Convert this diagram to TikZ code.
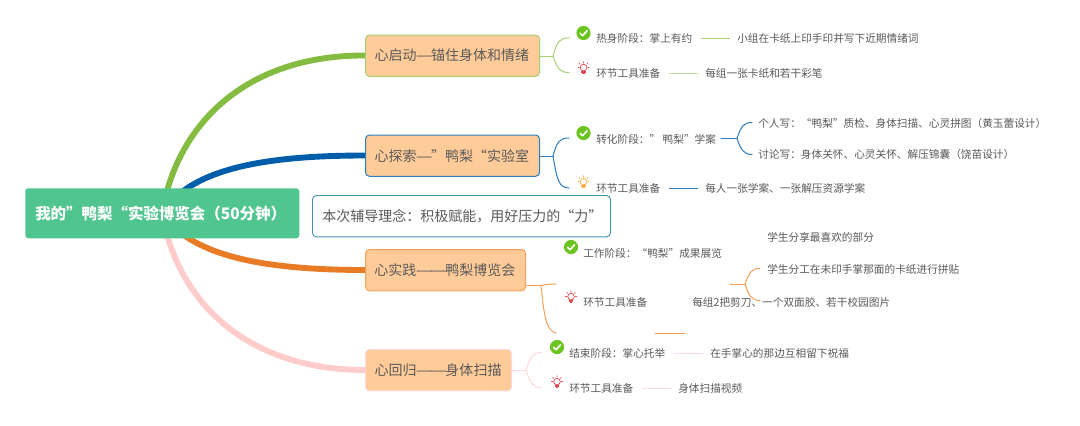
\documentclass[tikz,border=0pt]{standalone}
\usepackage{fontspec}
\setmainfont[Script=CJK]{Noto Sans CJK SC}
\newcommand{\wdash}{\hspace{-0.5pt}\scalebox{1.35}[1]{—}\hspace{-1.3pt}}
\definecolor{cgreen}{HTML}{84BC41}
\definecolor{cgreenl}{HTML}{A3D070}
\definecolor{cblue}{HTML}{005DAA}
\definecolor{cbluel}{HTML}{2F7DBE}
\definecolor{corange}{HTML}{E87B25}
\definecolor{corangel}{HTML}{F6A05A}
\definecolor{cpink}{HTML}{FFCCCC}
\definecolor{cpinkl}{HTML}{FFD9D9}
\definecolor{croot}{HTML}{51C58F}
\definecolor{cbox}{HTML}{FFCC99}
\definecolor{cnote}{HTML}{3F94B0}
\definecolor{ctxt}{HTML}{595959}
\definecolor{cchk}{HTML}{6CC420}
\definecolor{cbulbr}{HTML}{DE4A50}
\definecolor{cbulbo}{HTML}{F9B04A}
\tikzset{
  x=0.75pt,y=-0.75pt,
  rootbox/.style={draw=none,fill=croot,rounded corners=2.2pt,text=white,font=\fontsize{11.6pt}{13pt}\selectfont\bfseries,anchor=north west,minimum width=205.5pt,minimum height=37.5pt,inner sep=0pt,align=left,text width=190.5pt},
  topic/.style={fill=cbox,rounded corners=3pt,line width=0.75pt,text=ctxt,font=\fontsize{10.5pt}{12pt}\selectfont,anchor=north west,minimum height=31pt,inner sep=0pt},
  notebox/.style={draw=cnote,fill=white,rounded corners=3pt,line width=0.7pt,text=ctxt,font=\fontsize{10.5pt}{12pt}\selectfont,anchor=north west,minimum width=223.5pt,minimum height=31pt,inner sep=0pt,text width=216pt,align=left},
  leaf/.style={text=ctxt,font=\fontsize{8pt}{10pt}\selectfont,anchor=west,inner sep=0pt},
  main/.style={line width=4.4pt},
  thin/.style={line width=0.75pt,line cap=round},
  gapline/.style={line width=0.75pt,shorten <=6pt,shorten >=5.25pt},
  pics/checkicon/.style={code={
    \fill[cchk] (0,0) circle (5.3pt);
    \draw[white,line width=1.2pt,line cap=round,line join=round] (-3.4,0.3) -- (-0.9,2.7) -- (3.5,-2.2);
  }},
  pics/bulbicon/.style={code={
    \draw[#1,line width=0.55pt] (0,-1.4) circle (3.3);
    \draw[#1,line width=0.55pt,line cap=round]
      (0,-7.3)--(0,-6) (-5.6,-1.4)--(-4.4,-1.4) (5.6,-1.4)--(4.4,-1.4)
      (-4.2,-5.6)--(-3.3,-4.7) (4.2,-5.6)--(3.3,-4.7);
    \fill[#1] (-2.2,2.2) rectangle (2.2,3.5);
    \fill[#1] (-1.4,4.1) rectangle (1.4,5.2);
  }},
}
\begin{document}
\begin{tikzpicture}
\useasboundingbox[fill=white] (0,0) rectangle (1080,425);
% main branches, behind everything
\coordinate (hub) at (162,213);
\coordinate (p1) at (365,55.5);
\coordinate (p2) at (365,155.5);
\coordinate (p3) at (365,270);
\coordinate (p4) at (365,370);
\draw[main,cgreen] (hub) .. controls (178,120) and (250,55) .. (p1);
\draw[main,cblue] (hub) .. controls (190,170) and (260,155.5) .. (p2);
\draw[main,corange] (hub) .. controls (190,255) and (260,270) .. (p3);
\draw[main,cpink] (hub) .. controls (178,305) and (250,370) .. (p4);
% topic boxes on top of the branches
\node[topic,draw=cgreenl,minimum width=130.5pt,text width=123.75pt,align=left] (t1) at (365,34.5) {\hspace*{3.4pt}心启动\wdash 锚住身体和情绪};
\node[topic,draw=cbluel,minimum width=130.5pt,text width=123.75pt,align=left] (t2) at (365,134.5) {\hspace*{3.4pt}心探索\wdash ”鸭梨“实验室};
\node[topic,draw=corangel,minimum width=120pt,text width=113pt,align=left] (t3) at (365,249) {\hspace*{3.2pt}心实践\wdash\wdash 鸭梨博览会};
\node[topic,draw=cpinkl,minimum width=109.5pt,text width=103pt,align=left] (t4) at (365,349) {\hspace*{3.5pt}心回归\wdash\wdash 身体扫描};
% root and note
\node[rootbox] (root) at (25,188) {我的”鸭梨“实验博览会（50分钟）};
\node[notebox] (note) at (312,195) {\hspace*{3.75pt}本次辅导理念：积极赋能，用好压力的“力”};
% branch 1
\coordinate (f1) at (553,56);
\coordinate (e1a) at (569,38);
\coordinate (e1b) at (569,72.5);
\draw[thin,cgreenl] (t1.east |- f1) -- (f1);
\draw[thin,cgreenl] (f1) .. controls (557,42) and (559,38) .. (e1a);
\draw[thin,cgreenl] (f1) .. controls (557,68) and (559,72.5) .. (e1b);
\pic at (583.5,33) {checkicon};
\pic at (583.5,69) {bulbicon=cbulbr};
\node[leaf] (a1) at (596,38) {热身阶段：掌上有约};
\node[leaf] (a2) at (737,38) {小组在卡纸上印手印并写下近期情绪词};
\node[leaf] (a3) at (596,73) {环节工具准备};
\node[leaf] (a4) at (705,73) {每组一张卡纸和若干彩笔};
\draw[gapline,cgreenl] (a1) -- (a2);
\draw[gapline,cgreenl!70!white] (a3) -- (a4);
% branch 2
\coordinate (f2) at (553,156);
\coordinate (e2a) at (569,138);
\coordinate (e2b) at (569,188);
\draw[thin,cbluel] (t2.east |- f2) -- (f2);
\draw[thin,cbluel] (f2) .. controls (557,142) and (559,138) .. (e2a);
\draw[thin,cbluel] (f2) .. controls (557,180) and (559,188) .. (e2b);
\pic at (583.5,133) {checkicon};
\pic at (583.5,183) {bulbicon=cbulbo};
\node[leaf] (b1) at (596,139) {转化阶段：” 鸭梨”学案};
\node[leaf] (b2) at (758,123) {个人写：“鸭梨”质检、身体扫描、心灵拼图（黄玉蕾设计）};
\node[leaf] (b3) at (758,154) {讨论写：身体关怀、心灵关怀、解压锦囊（饶苗设计）};
\node[leaf] (b4) at (596,188) {环节工具准备};
\node[leaf] (b5) at (705,188) {每人一张学案、一张解压资源学案};
\coordinate (g2) at (737,138.5);
\draw[thin,cbluel] (721,138.5) -- (g2);
\draw[thin,cbluel] (g2) .. controls (741,126) and (744,122.5) .. (752,122.5);
\draw[thin,cbluel] (g2) .. controls (741,150) and (744,154.5) .. (752,154.5);
\draw[gapline,cbluel] (b4) -- (b5);
% branch 3
\coordinate (f3) at (541,285.5);
\coordinate (e3a) at (556,284);
\coordinate (e3b) at (556,333);
\draw[thin,corangel] (t3.south east |- f3) -- (f3);
\draw[thin,corangel] (f3) .. controls (546,284.5) and (550,284) .. (e3a);
\draw[thin,corangel] (f3) .. controls (544,315) and (546,331) .. (e3b);
\pic at (571,247) {checkicon};
\pic at (571,298) {bulbicon=cbulbr};
\node[leaf] (c1) at (583,253) {工作阶段：“鸭梨”成果展览};
\node[leaf] (c2) at (767,237) {学生分享最喜欢的部分};
\node[leaf] (c3) at (583,302) {环节工具准备};
\node[leaf] (c4) at (692,302) {每组2把剪刀、一个双面胶、若干校园图片};
\node[leaf] (c5) at (767,269) {学生分工在未印手掌那面的卡纸进行拼贴};
\coordinate (g3) at (745,284.5);
\draw[thin,corangel] (730,284.5) -- (g3);
\draw[thin,corangel] (g3) .. controls (749,272) and (752,268.5) .. (760,268.5);
\draw[thin,corangel] (g3) .. controls (749,296) and (752,300.5) .. (760,300.5);
\draw[thin,corangel] (655,333) -- (685,333);
% branch 4
\coordinate (f4) at (526,370);
\coordinate (e4a) at (541,352.5);
\coordinate (e4b) at (541,387.5);
\draw[thin,cpinkl] (t4.east |- f4) -- (f4);
\draw[thin,cpinkl] (f4) .. controls (530,357) and (533,352.5) .. (e4a);
\draw[thin,cpinkl] (f4) .. controls (530,383) and (533,387.5) .. (e4b);
\pic at (557,347) {checkicon};
\pic at (557,383) {bulbicon=cbulbr};
\node[leaf] (d1) at (569,353) {结束阶段：掌心托举};
\node[leaf] (d2) at (710,353) {在手掌心的那边互相留下祝福};
\node[leaf] (d3) at (569,388) {环节工具准备};
\node[leaf] (d4) at (678,388) {身体扫描视频};
\draw[gapline,cpinkl] (d1) -- (d2);
\draw[gapline,cpinkl] (d3) -- (d4);
\end{tikzpicture}
\end{document}
